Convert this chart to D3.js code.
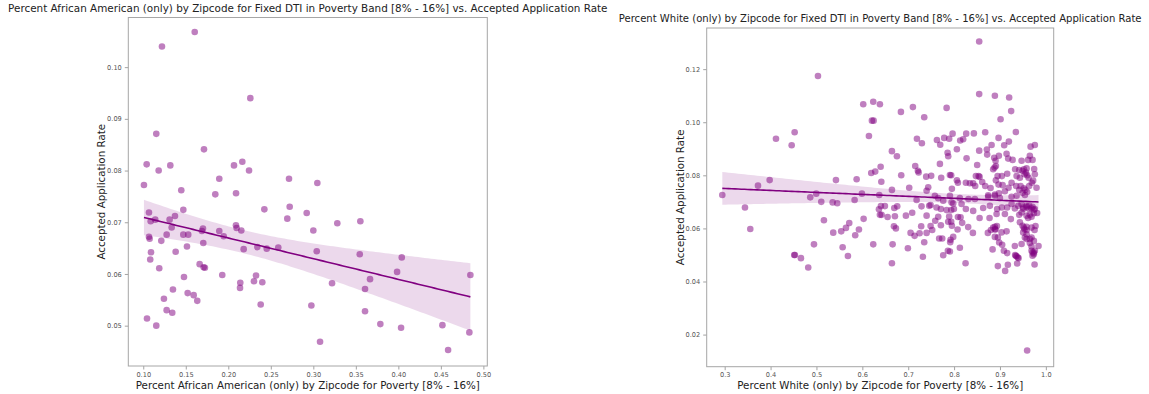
<!DOCTYPE html>
<html>
<head>
<meta charset="utf-8">
<script src="https://cdn.jsdelivr.net/npm/d3@7"></script>
<style>
  body { margin: 0; background: #fff; }
  text { font-family: "DejaVu Sans", sans-serif; }
</style>
</head>
<body>
<svg id="chart" width="1149" height="394"></svg>
<script>
// [percent of population, accepted application rate] per zipcode
const africanAmericanPoints = [
  [0.1605,0.1068],[0.1220,0.1040],[0.2259,0.0940],[0.1153,0.0871],[0.1714,0.0841],[0.1040,0.0812],
  [0.1181,0.0800],[0.1318,0.0810],[0.2067,0.0810],[0.2165,0.0817],[0.2244,0.0800],[0.1894,0.0784],
  [0.2714,0.0784],[0.1008,0.0772],[0.1447,0.0762],[0.1847,0.0754],[0.2091,0.0756],
  [0.3047,0.0776],[0.2922,0.0718],[0.3000,0.0684],[0.3282,0.0698],[0.3553,0.0702],[0.3040,0.0644],
  [0.3546,0.0638],[0.4040,0.0632],[0.3985,0.0604],[0.4847,0.0598],[0.3220,0.0582],[0.3667,0.0590],
  [0.3608,0.0571],[0.2977,0.0539],[0.3608,0.0528],[0.3788,0.0503],[0.4032,0.0496],[0.4518,0.0501],
  [0.4835,0.0487],[0.3079,0.0469],[0.4585,0.0453],
  [0.1067,0.0719],[0.1087,0.0702],[0.1141,0.0705],[0.1067,0.0672],[0.1075,0.0668],[0.1091,0.0642],
  [0.1082,0.0628],[0.1188,0.0611],[0.1044,0.0514],[0.1153,0.0500],[0.1212,0.0664],[0.1275,0.0676],
  [0.1310,0.0705],[0.1334,0.0690],[0.1373,0.0712],[0.1471,0.0724],[0.1381,0.0643],[0.1243,0.0552],
  [0.1275,0.0530],[0.1341,0.0525],[0.1349,0.0570],[0.1479,0.0594],[0.1471,0.0676],[0.1529,0.0676],
  [0.1514,0.0653],[0.1522,0.0563],[0.1593,0.0559],[0.1635,0.0548],[0.1663,0.0619],[0.1710,0.0613],
  [0.1725,0.0612],[0.1702,0.0688],[0.1690,0.0683],[0.1706,0.0660],[0.1894,0.0683],[0.1946,0.0673],
  [0.1929,0.0598],[0.2090,0.0694],[0.2098,0.0689],[0.2153,0.0684],[0.2181,0.0648],[0.2141,0.0583],
  [0.2138,0.0573],[0.2302,0.0586],[0.2326,0.0597],[0.2400,0.0584],[0.2381,0.0541],[0.2341,0.0652],
  [0.2452,0.0649],[0.2588,0.0651],[0.2424,0.0725],[0.2722,0.0730],[0.2694,0.0707]
];

const whitePoints = [
  [0.5033,0.1174],[0.6020,0.1068],[0.6238,0.1077],[0.6383,0.1068],[0.6209,0.1006],[0.6246,0.1006],
  [0.6144,0.0948],[0.4525,0.0962],[0.4118,0.0938],[0.4460,0.0913],[0.2948,0.0726],[0.3726,0.0761],
  [0.3980,0.0782],[0.3442,0.0679],[0.3558,0.0598],[0.4865,0.0717],[0.4996,0.0731],[0.5105,0.0700],
  [0.5353,0.0698],[0.5453,0.0695],[0.5425,0.0782],[0.5876,0.0785],[0.5832,0.0707],[0.5991,0.0731],
  [0.6194,0.0809],[0.6281,0.0814],[0.6399,0.0832],[0.6414,0.0776],[0.6370,0.0726],[0.6362,0.0672],
  [0.6405,0.0684],[0.6383,0.0651],[0.6420,0.0651],
  [0.5163,0.0631],[0.5366,0.0584],[0.5540,0.0589],[0.5643,0.0602],[0.5715,0.0620],[0.5926,0.0596],
  [0.5845,0.0574],[0.6028,0.0636],[0.6238,0.0540],[0.5571,0.0529],[0.5686,0.0496],[0.4946,0.0540],
  [0.4516,0.0500],[0.4530,0.0500],[0.4662,0.0488],[0.4821,0.0453],
  [0.8547,0.1304],[0.8547,0.1106],[0.8889,0.1100],[0.9200,0.1093],[0.9244,0.1042],[0.9013,0.1011],
  [0.7837,0.1054],[0.7102,0.1057],[0.6841,0.1039],[0.7349,0.1019],[0.7190,0.0938],[0.7298,0.0921],
  [0.7625,0.0933],[0.7698,0.0915],[0.7784,0.0941],[0.7893,0.0938],[0.7967,0.0957],[0.8133,0.0931],
  [0.8198,0.0936],[0.8264,0.0957],[0.8431,0.0958],[0.8678,0.0962],[0.8969,0.0941],[0.9194,0.0927],
  [0.9092,0.0913],[0.9346,0.0963],[0.9667,0.0908],[0.9760,0.0914],[0.6645,0.0891],[0.6754,0.0872],
  [0.8061,0.0898],[0.7858,0.0885],[0.7872,0.0872],[0.8547,0.0893],[0.8715,0.0897],[0.8817,0.0914],
  [0.8721,0.0878],[0.8272,0.0864],[0.8874,0.0866],[0.8976,0.0874],[0.8904,0.0855],[0.9144,0.0881],
  [0.9179,0.0863],[0.9275,0.0858],[0.9471,0.0855],[0.9614,0.0858],[0.9651,0.0874],[0.9710,0.0858],
  [0.7691,0.0843],[0.7153,0.0835],[0.7211,0.0817],[0.7227,0.0811],[0.6848,0.0800],[0.7392,0.0795],
  [0.7501,0.0798],[0.7719,0.0791],[0.7909,0.0801],[0.7937,0.0800],[0.8503,0.0839],[0.8475,0.0797],
  [0.8534,0.0797],[0.8556,0.0794],[0.8061,0.0781],[0.8083,0.0772],[0.8257,0.0772],[0.8344,0.0770],
  [0.8416,0.0770],[0.8460,0.0760],[0.8613,0.0775],[0.8678,0.0760],[0.8795,0.0752],[0.8911,0.0781],
  [0.8882,0.0829],[0.8852,0.0823],[0.8911,0.0835],[0.8948,0.0797],[0.9041,0.0797],[0.9157,0.0806],
  [0.9331,0.0823],[0.9418,0.0820],[0.9521,0.0823],[0.9580,0.0826],[0.9745,0.0824],[0.9760,0.0804],
  [0.9362,0.0797],[0.9434,0.0791],[0.9536,0.0804],[0.9564,0.0810],[0.9623,0.0791],[0.9723,0.0780],
  [0.9797,0.0753],[0.8969,0.0765],[0.9057,0.0763],[0.9187,0.0753],[0.9253,0.0772],[0.9353,0.0760],
  [0.9418,0.0745],[0.9521,0.0751],[0.9636,0.0760],[0.9695,0.0772],[0.9592,0.0737],[0.9492,0.0734],
  [0.9107,0.0740],[0.8976,0.0732],[0.8889,0.0728],[0.8743,0.0725],[0.7952,0.0749],[0.7436,0.0755],
  [0.7022,0.0753],[0.6645,0.0745],[0.7401,0.0742],
  [0.9492,0.0817],[0.9592,0.0800],[0.9450,0.0760],[0.9550,0.0745],
  [0.7582,0.0723],[0.7654,0.0714],[0.7909,0.0723],[0.8126,0.0714],[0.8314,0.0711],[0.8453,0.0711],
  [0.8743,0.0719],[0.8889,0.0723],[0.8998,0.0714],[0.9253,0.0719],[0.9362,0.0723],[0.9543,0.0726],
  [0.7763,0.0704],[0.7945,0.0698],[0.7183,0.0707],
  [0.6492,0.0684],[0.6696,0.0677],[0.6761,0.0683],[0.7290,0.0683],[0.7458,0.0685],[0.7488,0.0688],
  [0.7618,0.0679],[0.7712,0.0673],[0.7837,0.0669],[0.7937,0.0669],[0.7996,0.0673],[0.7981,0.0694],
  [0.8163,0.0692],[0.8257,0.0673],[0.8416,0.0666],[0.8634,0.0677],[0.8780,0.0685],[0.8939,0.0673],
  [0.9041,0.0679],[0.9157,0.0679],[0.9253,0.0692],[0.9325,0.0675],[0.9397,0.0685],[0.9471,0.0692],
  [0.9506,0.0679],[0.9580,0.0685],[0.9636,0.0673],[0.9710,0.0681],[0.9760,0.0673],[0.9810,0.0658],
  [0.9739,0.0657],[0.9651,0.0651],[0.9580,0.0648],[0.9471,0.0660],
  [0.9580,0.0680],[0.9636,0.0686],[0.9688,0.0676],[0.9739,0.0670],[0.9506,0.0673],
  [0.6551,0.0643],[0.6710,0.0646],[0.6950,0.0648],[0.7087,0.0659],[0.7401,0.0648],[0.7654,0.0644],
  [0.7893,0.0645],[0.8083,0.0643],[0.8141,0.0642],[0.8556,0.0639],[0.8773,0.0639],[0.8926,0.0654],
  [0.9107,0.0654],[0.9237,0.0635],[0.9418,0.0651],[0.9614,0.0639],[0.9688,0.0644],
  [0.6689,0.0608],[0.6732,0.0600],[0.7283,0.0608],[0.7488,0.0609],[0.7523,0.0594],[0.7589,0.0629],
  [0.7712,0.0612],[0.7872,0.0625],[0.7937,0.0625],[0.7952,0.0610],[0.8076,0.0596],[0.8176,0.0621],
  [0.8307,0.0605],[0.8410,0.0583],[0.8802,0.0594],[0.8889,0.0606],[0.8904,0.0596],[0.8933,0.0609],
  [0.8889,0.0568],[0.8736,0.0583],[0.9035,0.0585],[0.9144,0.0589],[0.9434,0.0623],[0.9492,0.0610],
  [0.9536,0.0597],[0.9580,0.0606],[0.9775,0.0609],[0.9754,0.0594],[0.9506,0.0585],[0.9580,0.0578],
  [0.9521,0.0603],[0.9580,0.0594],[0.9688,0.0603],[0.8852,0.0603],[0.8889,0.0597],
  [0.7052,0.0583],[0.7139,0.0572],[0.7248,0.0582],[0.7401,0.0583],[0.7675,0.0562],[0.7741,0.0562],
  [0.7924,0.0557],[0.7916,0.0548],[0.7981,0.0568],[0.8954,0.0566],[0.8983,0.0547],[0.9048,0.0538],
  [0.9325,0.0534],[0.9471,0.0541],[0.9580,0.0560],[0.9688,0.0566],[0.9739,0.0553],[0.9651,0.0545],
  [0.9688,0.0532],[0.9543,0.0566],[0.9651,0.0560],
  [0.6660,0.0540],[0.6993,0.0525],[0.7349,0.0548],[0.8126,0.0527],[0.7865,0.0516],[0.7909,0.0513],
  [0.7763,0.0499],[0.7320,0.0493],[0.8839,0.0521],[0.9085,0.0516],[0.9157,0.0507],[0.9331,0.0500],
  [0.9362,0.0495],[0.9405,0.0488],[0.9688,0.0516],[0.9739,0.0509],[0.9710,0.0497],[0.9840,0.0534],
  [0.9760,0.0516],[0.9710,0.0509],[0.9739,0.0503],[0.9346,0.0497],[0.9390,0.0490],
  [0.6645,0.0469],[0.8250,0.0469],[0.8954,0.0458],[0.9172,0.0463],[0.9375,0.0468],[0.9754,0.0464],
  [0.9113,0.0440],[0.9592,0.0140]
];

const aaXTicks = [0.10, 0.15, 0.20, 0.25, 0.30, 0.35, 0.40, 0.45, 0.50];
const aaYTicks = [0.05, 0.06, 0.07, 0.08, 0.09, 0.10];
const whiteXTicks = [0.3, 0.4, 0.5, 0.6, 0.7, 0.8, 0.9, 1.0];
const whiteYTicks = [0.02, 0.04, 0.06, 0.08, 0.10, 0.12];

const titles = [
  'Percent African American (only) by Zipcode for Fixed DTI in Poverty Band [8% - 16%] vs. Accepted Application Rate',
  'Percent White (only) by Zipcode for Fixed DTI in Poverty Band [8% - 16%] vs. Accepted Application Rate'
];
const xLabels = [
  'Percent African American (only) by Zipcode for Poverty [8% - 16%]',
  'Percent White (only) by Zipcode for Poverty [8% - 16%]'
];
const yLabel = 'Accepted Application Rate';

const color = 'purple';
const svg = d3.select('#chart');
svg.append('rect').attr('width', 1149).attr('height', 394).attr('fill', '#fff');

// ordinary least squares fit with a 95% confidence band for the mean
function fitLine(points, steps) {
  const n = points.length;
  const mx = d3.mean(points, d => d[0]);
  const my = d3.mean(points, d => d[1]);
  const sxx = d3.sum(points, d => (d[0] - mx) ** 2);
  const sxy = d3.sum(points, d => (d[0] - mx) * (d[1] - my));
  const slope = sxy / sxx;
  const icpt = my - slope * mx;
  const sse = d3.sum(points, d => (d[1] - icpt - slope * d[0]) ** 2);
  const s = Math.sqrt(sse / (n - 2));
  const z = 1.96, df = n - 2;
  const t = z + (z ** 3 + z) / (4 * df);
  const [x0, x1] = d3.extent(points, d => d[0]);
  return d3.range(steps + 1).map(i => {
    const x = x0 + (x1 - x0) * i / steps;
    const y = icpt + slope * x;
    const half = t * s * Math.sqrt(1 / n + (x - mx) ** 2 / sxx);
    return { x, y, lo: y - half, hi: y + half };
  });
}

function drawPanel(cfg) {
  const { left, right, top, bottom } = cfg.box;
  const x = d3.scaleLinear().domain(cfg.xDomain).range([left, right]);
  const y = d3.scaleLinear().domain(cfg.yDomain).range([bottom, top]);
  const g = svg.append('g');

  g.append('g')
    .selectAll('circle')
    .data(cfg.points)
    .join('circle')
    .attr('cx', d => x(d[0]))
    .attr('cy', d => y(d[1]))
    .attr('r', 3.3)
    .attr('fill', color)
    .attr('fill-opacity', 0.5);

  const fit = fitLine(cfg.points, 100);
  g.append('path')
    .datum(fit)
    .attr('fill', color)
    .attr('fill-opacity', 0.15)
    .attr('d', d3.area().x(d => x(d.x)).y0(d => y(d.lo)).y1(d => y(d.hi)));
  g.append('path')
    .datum(fit)
    .attr('fill', 'none')
    .attr('stroke', color)
    .attr('stroke-width', 1.6)
    .attr('d', d3.line().x(d => x(d.x)).y(d => y(d.y)));

  const xAxis = g.append('g')
    .attr('transform', `translate(0,${bottom})`)
    .call(d3.axisBottom(x).tickValues(cfg.xTicks).tickFormat(d3.format(cfg.xFormat)).tickSize(3.5).tickPadding(2.5));
  const yAxis = g.append('g')
    .attr('transform', `translate(${left},0)`)
    .call(d3.axisLeft(y).tickValues(cfg.yTicks).tickFormat(d3.format('.2f')).tickSize(3.5).tickPadding(3));
  [xAxis, yAxis].forEach(a => {
    a.select('.domain').remove();
    a.selectAll('line').attr('stroke', '#8c8c8c').attr('stroke-width', 0.8);
    a.selectAll('text').attr('fill', '#555').style('font-size', '6.6px').style('font-family', '"DejaVu Sans", sans-serif');
  });

  g.append('rect')
    .attr('x', left).attr('y', top)
    .attr('width', right - left).attr('height', bottom - top)
    .attr('fill', 'none').attr('stroke', '#a6a6a6').attr('stroke-width', 1);

  g.append('text')
    .attr('x', (left + right) / 2).attr('y', cfg.titleY)
    .attr('text-anchor', 'middle')
    .style('font-size', cfg.titleSize + 'px').attr('fill', '#222')
    .text(cfg.title);
  g.append('text')
    .attr('x', (left + right) / 2).attr('y', 388.5)
    .attr('text-anchor', 'middle')
    .style('font-size', '10.3px').attr('fill', '#222')
    .text(cfg.xLabel);
  g.append('text')
    .attr('transform', `translate(${cfg.yLabelX},${(top + bottom) / 2}) rotate(-90)`)
    .attr('text-anchor', 'middle')
    .style('font-size', '10.3px').attr('fill', '#222')
    .text(yLabel);
}

drawPanel({
  box: { left: 128.3, right: 487.3, top: 17.5, bottom: 366 },
  xDomain: [0.0824, 0.5046],
  yDomain: [0.0422, 0.1096],
  points: africanAmericanPoints,
  xTicks: aaXTicks, yTicks: aaYTicks, xFormat: '.2f',
  title: titles[0], xLabel: xLabels[0],
  titleY: 11.5, titleSize: 10.4, yLabelX: 104.5
});

drawPanel({
  box: { left: 706.7, right: 1053.7, top: 28, bottom: 366.7 },
  xDomain: [0.2608, 1.0171],
  yDomain: [0.0079, 0.1355],
  points: whitePoints,
  xTicks: whiteXTicks, yTicks: whiteYTicks, xFormat: '.1f',
  title: titles[1], xLabel: xLabels[1],
  titleY: 22, titleSize: 10.05, yLabelX: 683.5
});
</script>
</body>
</html>
